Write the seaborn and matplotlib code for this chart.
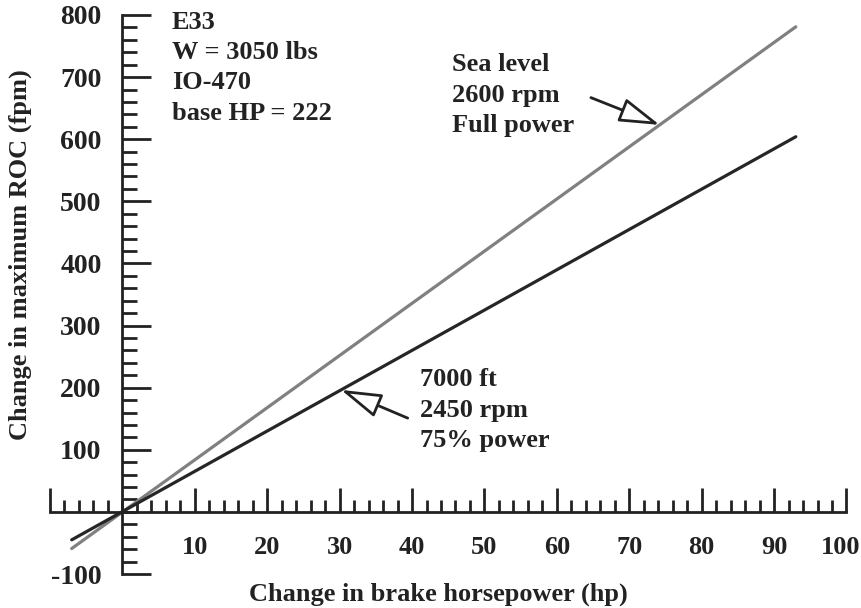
import numpy as np
import pandas as pd
import seaborn as sns
import matplotlib.pyplot as plt
import matplotlib.transforms as mtransforms
from matplotlib.ticker import MultipleLocator

# data
hp = [-7, 93]
roc_sea_level = [-59, 781]
roc_7000ft = [-45, 604]

x_ticks = [10, 20, 30, 40, 50, 60, 70, 80, 90, 100]
x_tick_labels = ["10", "20", "30", "40", "50", "60", "70", "80", "90", "100"]
y_ticks = [-100, 100, 200, 300, 400, 500, 600, 700, 800]
y_tick_labels = ["-100", "100", "200", "300", "400", "500", "600", "700", "800"]

df = pd.DataFrame({
    "hp": hp + hp,
    "roc": roc_sea_level + roc_7000ft,
    "case": ["sea"] * 2 + ["7000"] * 2,
})

sns.set_style("white")
plt.rcParams["font.family"] = ["Liberation Serif", "DejaVu Serif"]
plt.rcParams["font.weight"] = "bold"
ink = "#222222"
fs = 19

fig = plt.figure(figsize=(8.61, 6.08), dpi=100)
ax = fig.add_axes([50 / 861, 34 / 608, 796.5 / 861, 559 / 608])

sns.lineplot(data=df, x="hp", y="roc", hue="case",
             palette={"sea": "#808080", "7000": "#262626"},
             linewidth=2.3, legend=False, ax=ax)

ax.set_xlim(-10, 100)
ax.set_ylim(-100, 800)

# axes cross at the origin
ax.spines["top"].set_visible(False)
ax.spines["right"].set_visible(False)
ax.spines["left"].set_position(("data", 0))
ax.spines["bottom"].set_position(("data", 0))
for s in ["left", "bottom"]:
    ax.spines[s].set_linewidth(2)
    ax.spines[s].set_color(ink)

ax.set_xticks([-10] + x_ticks)
ax.set_xticklabels([""] + x_tick_labels)
ax.set_yticks(y_ticks)
ax.set_yticklabels(y_tick_labels)
ax.xaxis.set_minor_locator(MultipleLocator(2))
ax.yaxis.set_minor_locator(MultipleLocator(20))

ax.tick_params(axis="x", which="major", direction="in", length=17, width=2,
               color=ink, pad=17, labelsize=fs, labelcolor=ink, bottom=True)
ax.tick_params(axis="x", which="minor", direction="in", length=9, width=2,
               color=ink, bottom=True)
ax.tick_params(axis="y", which="major", direction="in", length=21, width=2,
               color=ink, pad=15, labelsize=20, labelcolor=ink, left=True)
ax.tick_params(axis="y", which="minor", direction="in", length=11, width=2,
               color=ink, left=True)
for lab in ax.get_xticklabels() + ax.get_yticklabels():
    lab.set_fontweight("bold")

# last x label sits a little left of its tick so it fits the frame
last = ax.get_xticklabels()[-1]
last.set_transform(last.get_transform() +
                   mtransforms.ScaledTranslation(-6 / 100, 0, fig.dpi_scale_trans))

ax.set_xlabel("Change in brake horsepower (hp)", fontsize=fs, fontweight="bold",
              color=ink, va="center")
ax.xaxis.set_label_coords(0.487, -0.036)
ax.set_ylabel("Change in maximum ROC (fpm)", fontsize=fs, fontweight="bold",
              color=ink, va="center")
ax.yaxis.set_label_coords(-0.0377, 0.572)

# notes
note = dict(fontsize=fs, fontweight="bold", color=ink, va="center",
            ha="left", linespacing=1.4)
ax.text(6.8, 715, "E33\nW = 3050 lbs\nIO-470\nbase HP = 222", **note)
ax.text(45.5, 671, "Sea level\n2600 rpm\nFull power", **note)
ax.text(41.1, 164, "7000 ft\n2450 rpm\n75% power", **note)

arrow = dict(arrowstyle="-|>,head_length=2.5,head_width=0.75", fc="white",
             ec=ink, lw=2, shrinkA=0, shrinkB=0, mutation_scale=10)
tip1 = 74.2
ax.annotate("", xy=(tip1, np.interp(tip1, hp, roc_sea_level)),
            xytext=(64.7, 667), arrowprops=arrow)
tip2 = 30.2
ax.annotate("", xy=(tip2, np.interp(tip2, hp, roc_7000ft)),
            xytext=(39.4, 151), arrowprops=arrow)

fig.savefig("out.png", dpi=100)
